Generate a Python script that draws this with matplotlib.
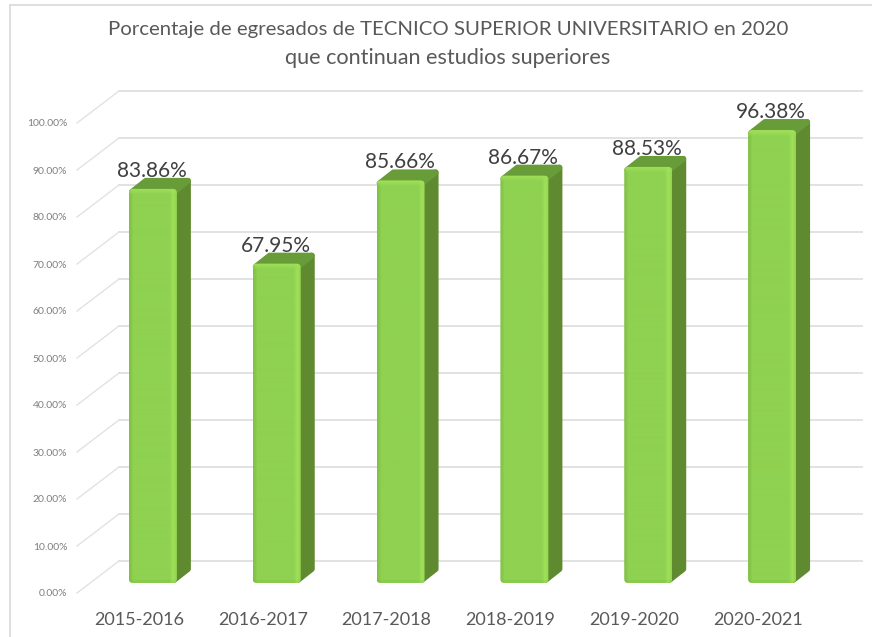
import matplotlib

matplotlib.use("Agg")
import matplotlib.pyplot as plt
import numpy as np
from matplotlib.patches import FancyBboxPatch, Polygon

categories = ["2015-2016", "2016-2017", "2017-2018", "2018-2019", "2019-2020", "2020-2021"]
values = [83.86, 67.95, 85.66, 86.67, 88.53, 96.38]
y_ticks = [0, 10, 20, 30, 40, 50, 60, 70, 80, 90, 100]
y_tick_labels = [f"{t:.2f}%" for t in y_ticks]
title_line1 = "Porcentaje de egresados de TECNICO SUPERIOR UNIVERSITARIO en 2020"
title_line2 = "que continuan estudios superiores"

W, H = 872, 637
AX_LEFT, AX_RIGHT, AX_BOTTOM, AX_TOP = 77, 820, 593, 123
# data units per pixel
UX = 6.0 / (AX_RIGHT - AX_LEFT)
UY = 100.0 / (AX_BOTTOM - AX_TOP)
BAR_W = 48 * UX
BAR_DX, BAR_DY = 14 * UX, 10 * UY  # bar front plane, from the axes plane
DEPTH_X, DEPTH_Y = 14 * UX, 11 * UY  # bar depth
WALL_DX, WALL_DY = 42 * UX, 32 * UY  # back wall

plt.rcParams["font.family"] = ["Lato", "DejaVu Sans"]

fig = plt.figure(figsize=(W / 100, H / 100), dpi=100)
ax = fig.add_axes([AX_LEFT / W, 1 - AX_BOTTOM / H, (AX_RIGHT - AX_LEFT) / W, (AX_BOTTOM - AX_TOP) / H])

# chart frame, left and top only show in the crop
fig.add_artist(plt.Line2D([10 / W, 10 / W], [0, 1 - 5 / H], color="#dcdcdc", lw=1.3))
fig.add_artist(plt.Line2D([10 / W, 1], [1 - 5 / H, 1 - 5 / H], color="#dcdcdc", lw=1.3))

# walls
grid_color = "#e2e2e2"
for t in y_ticks:
    ax.plot([-0.5, -0.5 + WALL_DX], [t, t + WALL_DY], color=grid_color, lw=1.0, clip_on=False, zorder=1)
    ax.plot([-0.5 + WALL_DX, 5.5 + WALL_DX], [t + WALL_DY] * 2, color=grid_color, lw=1.4, clip_on=False, zorder=1)


def bar_image(value):
    # front face shading: soft left edge, highlight down the right edge and along the top
    rows = int(value / UY)
    cols = 48
    base = np.array([143, 209, 80]) / 255.0
    light = np.array([160, 224, 88]) / 255.0
    dark = np.array([128, 192, 68]) / 255.0
    img = np.ones((rows, cols, 3)) * base
    for c in range(4):
        img[:, c] = dark + (base - dark) * (c / 4)
    for c in range(cols - 7, cols):
        f = 1 - abs(c - (cols - 4)) / 4
        img[:, c] = base + (light - base) * max(f, 0)
    for r in range(6):
        f = 1 - r / 6
        img[r, :] = img[r, :] + (light - img[r, :]) * f
    for r in range(3):
        img[rows - 1 - r, :] = img[rows - 1 - r, :] * 0.97
    return img


for i, v in enumerate(values):
    x0 = i - BAR_W / 2 + BAR_DX
    x1 = i + BAR_W / 2 + BAR_DX
    y0 = BAR_DY
    y1 = v + BAR_DY
    # round joins need the polygon pulled in by the line half width
    ix, iy = 3 * UX, 3 * UY

    side = Polygon(
        [(x1 - ix, y0 + iy), (x1 + DEPTH_X - ix, y0 + DEPTH_Y + iy),
         (x1 + DEPTH_X - ix, y1 + DEPTH_Y - iy), (x1 - ix, y1 - iy)],
        closed=True, facecolor="#5f8a30", edgecolor="#5f8a30", lw=4.3, joinstyle="round", zorder=3, clip_on=False,
    )
    ax.add_patch(side)
    top = Polygon(
        [(x0 + ix, y1 - iy), (x0 + DEPTH_X + ix, y1 + DEPTH_Y - iy),
         (x1 + DEPTH_X - ix, y1 + DEPTH_Y - iy), (x1 - ix, y1 - iy)],
        closed=True, facecolor="#679c38", edgecolor="#679c38", lw=4.3, joinstyle="round", zorder=3, clip_on=False,
    )
    ax.add_patch(top)

    im = ax.imshow(
        bar_image(v), extent=(x0, x1, y0, y1), aspect="auto", origin="upper",
        interpolation="bilinear", zorder=4,
    )
    clip = FancyBboxPatch(
        (x0 + 3 * UX, y0 + 3 * UY), BAR_W - 6 * UX, v - 6 * UY,
        boxstyle=f"round,pad={3 * UX},rounding_size={4 * UX}",
        mutation_aspect=UY / UX, transform=ax.transData, facecolor="none", edgecolor="none",
    )
    ax.add_patch(clip)
    im.set_clip_path(clip)

    ax.text(
        i + BAR_DX - 1 * UX, y1 + DEPTH_Y + 1 * UY, f"{v:.2f}%",
        ha="center", va="baseline", fontsize=15, color="#404040", zorder=2, clip_on=False,
    )

ax.set_xlim(-0.5, 5.5)
ax.set_ylim(0, 100)
ax.set_xticks(range(len(categories)), categories)
ax.set_yticks(y_ticks, y_tick_labels)
ax.tick_params(axis="x", length=0, pad=14, labelsize=13, labelcolor="#595959")
ax.tick_params(axis="y", length=0, pad=7, labelsize=7.5, labelcolor="#7f7f7f")
ax.patch.set_visible(False)
for spine in ax.spines.values():
    spine.set_visible(False)

fig.text(448 / W, 1 - 30 / H, title_line1, ha="center", va="center", fontsize=14.7, color="#595959")
fig.text(448 / W, 1 - 58 / H, title_line2, ha="center", va="center", fontsize=15.6, color="#595959")

fig.savefig("out.png", dpi=100, facecolor="white")
